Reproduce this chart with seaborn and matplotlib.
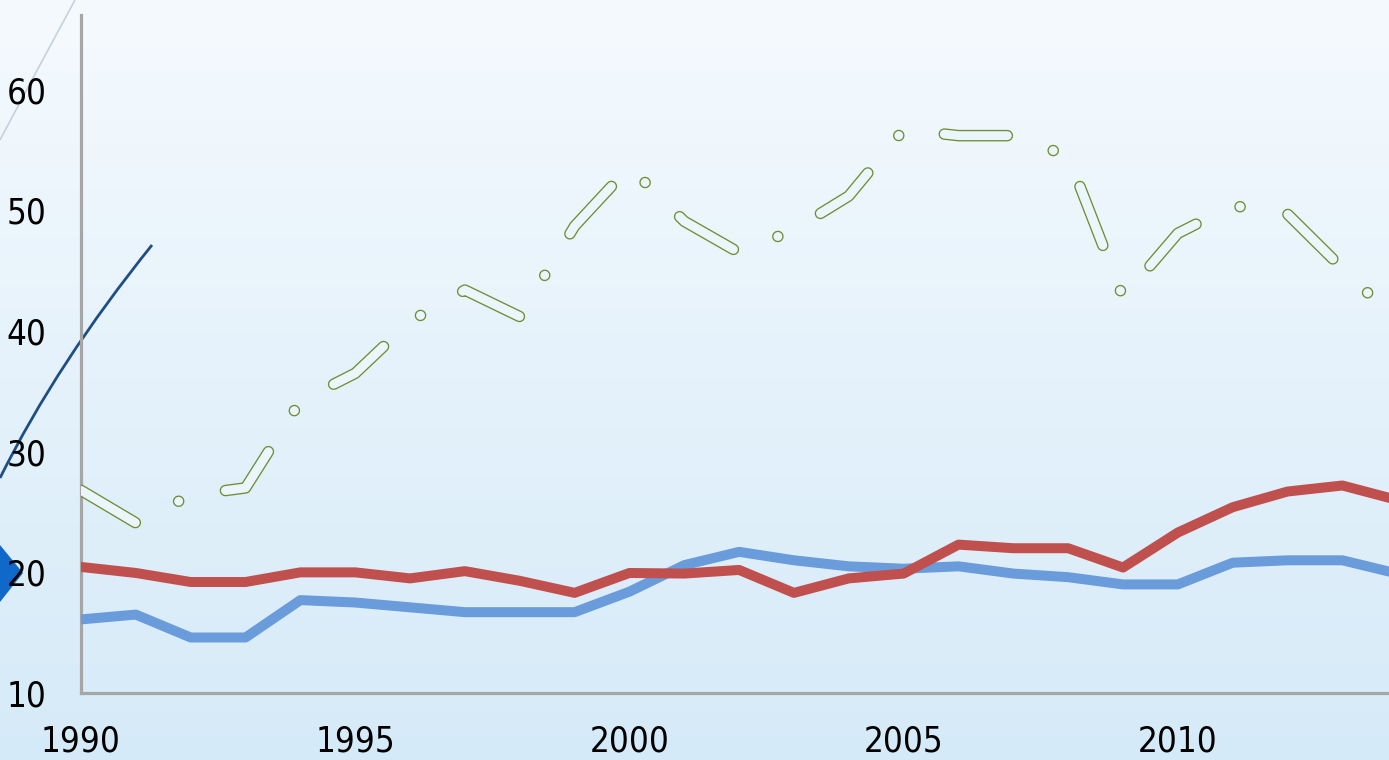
import numpy as np
import pandas as pd
import seaborn as sns
import matplotlib.pyplot as plt
from matplotlib import font_manager
from matplotlib.ticker import FixedLocator, NullFormatter
from matplotlib.patches import Polygon, PathPatch
from matplotlib.path import Path

# data
years = list(range(1990, 2015))
blue_vals = [16.1, 16.5, 14.6, 14.6, 17.7, 17.5, 17.1, 16.7, 16.7, 16.7,
             18.4, 20.6, 21.7, 21.0, 20.5, 20.3, 20.5, 19.9, 19.6, 19.0,
             19.0, 20.8, 21.0, 21.0, 19.9]
red_vals = [20.45, 19.95, 19.2, 19.2, 20.0, 20.0, 19.5, 20.1, 19.3, 18.3,
            19.95, 19.9, 20.2, 18.3, 19.5, 19.9, 22.3, 22.0, 22.0, 20.4,
            23.3, 25.4, 26.7, 27.2, 26.0]
green_vals = [26.8, 24.1, 26.4, 27.0, 34.2, 36.5, 40.8, 43.4, 41.2, 48.7,
              53.6, 49.1, 46.5, 48.4, 51.2, 56.7, 56.2, 56.2, 54.5, 42.8,
              48.1, 50.4, 49.7, 45.2, 40.8]
x_label_years = [1990, 1995, 2000, 2005, 2010]
y_ticks = [10, 20, 30, 40, 50, 60]

df = pd.DataFrame({"year": years, "blue": blue_vals, "red": red_vals,
                   "green": green_vals})

sns.set_style("white")

# narrow font if there is one, else fall back
names = {f.name for f in font_manager.fontManager.ttflist}
cond = [f for f in font_manager.fontManager.ttflist
        if f.name == "DejaVu Sans" and str(f.stretch) in ("condensed", "semi-condensed")]
stretch = "normal"
if "Liberation Sans Narrow" in names:
    fam = "Liberation Sans Narrow"
elif cond:
    fam = "DejaVu Sans"
    stretch = "condensed"
else:
    fam = "Liberation Sans"
plt.rcParams["font.family"] = [fam, "DejaVu Sans"]
plt.rcParams["font.stretch"] = stretch
plt.rcParams["lines.scale_dashes"] = False
fsize = 25 if fam != "Liberation Sans" else 24

W, H = 1389, 760
fig = plt.figure(figsize=(W / 100, H / 100), dpi=100)

# background gradient + decorations, in pixel coords
bg = fig.add_axes([0, 0, 1, 1], zorder=0)
grad = np.linspace(0, 1, 256)[:, None]
top = np.array([245, 250, 254]) / 255
bot = np.array([213, 234, 248]) / 255
img = top + (bot - top) * grad[..., None]
bg.imshow(img, extent=[0, W, H, 0], aspect="auto")
bg.set_xlim(0, W)
bg.set_ylim(H, 0)
bg.axis("off")

# decorative swooshes on the left
navy = Path([(0, 478), (57, 363), (152, 245)],
            [Path.MOVETO, Path.CURVE3, Path.CURVE3])
bg.add_patch(PathPatch(navy, fill=False, ec="#1f4e85", lw=2.0))
grey = Path([(75, 0), (37, 70), (0, 140)],
            [Path.MOVETO, Path.CURVE3, Path.CURVE3])
bg.add_patch(PathPatch(grey, fill=False, ec="#c5d1de", lw=1.2))
bg.add_patch(Polygon([(0, 545), (23, 573), (0, 602)], closed=True,
                     fc="#1069c9", ec="none"))

ax = fig.add_axes([81 / W, (H - 693) / H, 1 - 81 / W, (693 - 15) / H], zorder=1)
ax.patch.set_alpha(0)

sns.lineplot(data=df, x="year", y="blue", ax=ax, color="#6a9cdc", lw=7.2,
             solid_capstyle="round", solid_joinstyle="round", zorder=3)
sns.lineplot(data=df, x="year", y="red", ax=ax, color="#c0504d", lw=7.2,
             solid_capstyle="round", solid_joinstyle="round", zorder=4)

# hollow dash-dot line: green stroke with background-coloured core
dash = (0, (45.5, 34.9, 0.1, 34.9))
sns.lineplot(data=df, x="year", y="green", ax=ax, color="#6f8d35", lw=8.3,
             linestyle=dash, dash_capstyle="round", dash_joinstyle="round",
             zorder=5)
sns.lineplot(data=df, x="year", y="green", ax=ax, color="#eaf5fc", lw=6.4,
             linestyle=dash, dash_capstyle="round", dash_joinstyle="round",
             zorder=6)

ax.set_xlim(1990, 2013.85)
ax.set_ylim(10, 66.2)
ax.set_xlabel("")
ax.set_ylabel("")

for side in ["top", "right"]:
    ax.spines[side].set_visible(False)
for side in ["left", "bottom"]:
    ax.spines[side].set_color("#a6a6a6")
    ax.spines[side].set_linewidth(2.3)

ax.xaxis.remove_overlapping_locs = False
ax.xaxis.set_major_locator(FixedLocator(list(range(1990, 2014, 2))))
ax.xaxis.set_major_formatter(NullFormatter())
ax.xaxis.set_minor_locator(FixedLocator(x_label_years))
ax.set_xticklabels([str(y) for y in x_label_years], minor=True)
ax.tick_params(axis="x", which="major", direction="in", length=7,
               width=2.3, color="#a6a6a6")
ax.tick_params(axis="x", which="minor", length=0, pad=23,
               labelsize=fsize, labelcolor="black")

ax.set_yticks(y_ticks)
ax.set_yticklabels([str(v) for v in y_ticks])
ax.tick_params(axis="y", direction="in", length=7, width=2.3,
               color="#a6a6a6", pad=25, labelsize=fsize, labelcolor="black")

fig.savefig("out.png", dpi=100)
